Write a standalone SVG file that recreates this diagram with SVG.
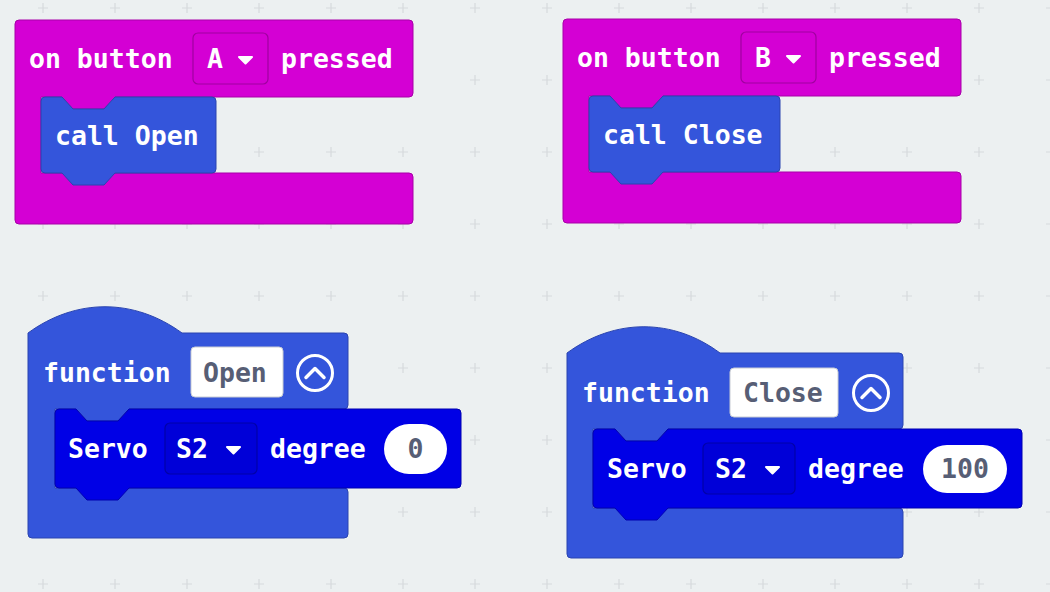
<svg xmlns="http://www.w3.org/2000/svg" width="1050" height="592" viewBox="0 0 1050 592">
<defs>
<style>
.t{font-family:"DejaVu Sans Mono","Liberation Mono",monospace;font-size:26.5px;font-weight:bold;fill:#ffffff}
.g{font-family:"DejaVu Sans Mono","Liberation Mono",monospace;font-size:26.5px;font-weight:bold;fill:#575e75}
.ev{fill:#d400d4;stroke:#a800a8;stroke-width:1}
.evdd{fill:#d400d4;stroke:#a000a0;stroke-width:1.2}
.fn{fill:#3455db;stroke:#2a44b0;stroke-width:1}
.sv{fill:#0000e6;stroke:#0000b0;stroke-width:1}
.svdd{fill:#0000d8;stroke:#0000a8;stroke-width:1.2}
.fld{fill:#ffffff;stroke:#c8ccd4;stroke-width:1}
.arr{fill:#ffffff;stroke:#ffffff;stroke-width:2;stroke-linejoin:round}
.btn{fill:none;stroke:#ffffff;stroke-width:3}
.chev{fill:none;stroke:#ffffff;stroke-width:3.5;stroke-linecap:round;stroke-linejoin:round}
.plus{stroke:#d6dadd;stroke-width:1.2}
</style>
<path id="plus" d="M-5,0H5M0,-5V5" class="plus"/>
</defs>
<rect x="0" y="0" width="1050" height="592" fill="#ecf0f1"/>
<g id="grid">
<g transform="translate(43,8)"><use href="#plus"/><use href="#plus" x="72"/><use href="#plus" x="144"/><use href="#plus" x="216"/><use href="#plus" x="288"/><use href="#plus" x="360"/><use href="#plus" x="432"/><use href="#plus" x="504"/><use href="#plus" x="576"/><use href="#plus" x="648"/><use href="#plus" x="720"/><use href="#plus" x="792"/><use href="#plus" x="864"/><use href="#plus" x="936"/><use href="#plus" x="1008"/></g>
<g transform="translate(43,80)"><use href="#plus"/><use href="#plus" x="72"/><use href="#plus" x="144"/><use href="#plus" x="216"/><use href="#plus" x="288"/><use href="#plus" x="360"/><use href="#plus" x="432"/><use href="#plus" x="504"/><use href="#plus" x="576"/><use href="#plus" x="648"/><use href="#plus" x="720"/><use href="#plus" x="792"/><use href="#plus" x="864"/><use href="#plus" x="936"/><use href="#plus" x="1008"/></g>
<g transform="translate(43,152)"><use href="#plus"/><use href="#plus" x="72"/><use href="#plus" x="144"/><use href="#plus" x="216"/><use href="#plus" x="288"/><use href="#plus" x="360"/><use href="#plus" x="432"/><use href="#plus" x="504"/><use href="#plus" x="576"/><use href="#plus" x="648"/><use href="#plus" x="720"/><use href="#plus" x="792"/><use href="#plus" x="864"/><use href="#plus" x="936"/><use href="#plus" x="1008"/></g>
<g transform="translate(43,224)"><use href="#plus"/><use href="#plus" x="72"/><use href="#plus" x="144"/><use href="#plus" x="216"/><use href="#plus" x="288"/><use href="#plus" x="360"/><use href="#plus" x="432"/><use href="#plus" x="504"/><use href="#plus" x="576"/><use href="#plus" x="648"/><use href="#plus" x="720"/><use href="#plus" x="792"/><use href="#plus" x="864"/><use href="#plus" x="936"/><use href="#plus" x="1008"/></g>
<g transform="translate(43,296)"><use href="#plus"/><use href="#plus" x="72"/><use href="#plus" x="144"/><use href="#plus" x="216"/><use href="#plus" x="288"/><use href="#plus" x="360"/><use href="#plus" x="432"/><use href="#plus" x="504"/><use href="#plus" x="576"/><use href="#plus" x="648"/><use href="#plus" x="720"/><use href="#plus" x="792"/><use href="#plus" x="864"/><use href="#plus" x="936"/><use href="#plus" x="1008"/></g>
<g transform="translate(43,368)"><use href="#plus"/><use href="#plus" x="72"/><use href="#plus" x="144"/><use href="#plus" x="216"/><use href="#plus" x="288"/><use href="#plus" x="360"/><use href="#plus" x="432"/><use href="#plus" x="504"/><use href="#plus" x="576"/><use href="#plus" x="648"/><use href="#plus" x="720"/><use href="#plus" x="792"/><use href="#plus" x="864"/><use href="#plus" x="936"/><use href="#plus" x="1008"/></g>
<g transform="translate(43,440)"><use href="#plus"/><use href="#plus" x="72"/><use href="#plus" x="144"/><use href="#plus" x="216"/><use href="#plus" x="288"/><use href="#plus" x="360"/><use href="#plus" x="432"/><use href="#plus" x="504"/><use href="#plus" x="576"/><use href="#plus" x="648"/><use href="#plus" x="720"/><use href="#plus" x="792"/><use href="#plus" x="864"/><use href="#plus" x="936"/><use href="#plus" x="1008"/></g>
<g transform="translate(43,512)"><use href="#plus"/><use href="#plus" x="72"/><use href="#plus" x="144"/><use href="#plus" x="216"/><use href="#plus" x="288"/><use href="#plus" x="360"/><use href="#plus" x="432"/><use href="#plus" x="504"/><use href="#plus" x="576"/><use href="#plus" x="648"/><use href="#plus" x="720"/><use href="#plus" x="792"/><use href="#plus" x="864"/><use href="#plus" x="936"/><use href="#plus" x="1008"/></g>
<g transform="translate(43,584)"><use href="#plus"/><use href="#plus" x="72"/><use href="#plus" x="144"/><use href="#plus" x="216"/><use href="#plus" x="288"/><use href="#plus" x="360"/><use href="#plus" x="432"/><use href="#plus" x="504"/><use href="#plus" x="576"/><use href="#plus" x="648"/><use href="#plus" x="720"/><use href="#plus" x="792"/><use href="#plus" x="864"/><use href="#plus" x="936"/><use href="#plus" x="1008"/></g>
</g>
<g id="connectors"></g>

<g id="onButtonA">
<path class="ev" d="M15,24a4,4 0 0 1 4,-4H409a4,4 0 0 1 4,4V93a4,4 0 0 1 -4,4H115l-11,12h-31l-11,-12H41V173H409a4,4 0 0 1 4,4V220a4,4 0 0 1 -4,4H19a4,4 0 0 1 -4,-4Z"/>
<text class="t" x="29" y="68">on button</text>
<rect class="evdd" x="193" y="33" width="75" height="51" rx="5"/>
<text class="t" x="207" y="68">A</text>
<path class="arr" d="M239,57H252L245.5,63.5Z"/>
<text class="t" x="281" y="68">pressed</text>
</g>
<g id="callOpen">
<path class="fn" d="M41,101a4,4 0 0 1 4,-4H62l11,12h31l11,-12H212a4,4 0 0 1 4,4V169a4,4 0 0 1 -4,4H115l-11,12h-31l-11,-12H45a4,4 0 0 1 -4,-4Z"/>
<text class="t" x="55" y="145">call Open</text>
</g>

<g id="onButtonB">
<path class="ev" d="M563,23a4,4 0 0 1 4,-4H957a4,4 0 0 1 4,4V92a4,4 0 0 1 -4,4H663l-11,12h-31l-11,-12H589V172H957a4,4 0 0 1 4,4V219a4,4 0 0 1 -4,4H567a4,4 0 0 1 -4,-4Z"/>
<text class="t" x="577" y="67">on button</text>
<rect class="evdd" x="741" y="32" width="75" height="51" rx="5"/>
<text class="t" x="755" y="67">B</text>
<path class="arr" d="M787,56H800L793.5,62.5Z"/>
<text class="t" x="829" y="67">pressed</text>
</g>
<g id="callClose">
<path class="fn" d="M589,100a4,4 0 0 1 4,-4H610l11,12h31l11,-12H776a4,4 0 0 1 4,4V168a4,4 0 0 1 -4,4H663l-11,12h-31l-11,-12H593a4,4 0 0 1 -4,-4Z"/>
<text class="t" x="603" y="144">call Close</text>
</g>

<g id="functionOpen">
<path class="fn" d="M28,333c48,-35 106,-35 154,0H344a4,4 0 0 1 4,4V405a4,4 0 0 1 -4,4H129l-11,12h-31l-11,-12H55V488H344a4,4 0 0 1 4,4V534a4,4 0 0 1 -4,4H32a4,4 0 0 1 -4,-4Z"/>
<text class="t" x="43" y="382">function</text>
<rect class="fld" x="191" y="347" width="92" height="50" rx="4"/>
<text class="g" x="203" y="382">Open</text>
<circle class="btn" cx="315" cy="373" r="17.5"/>
<path class="chev" d="M306,377.5L315,368.5L324,377.5"/>
</g>
<g id="servoOpen">
<path class="sv" d="M55,413a4,4 0 0 1 4,-4H76l11,12h31l11,-12H457a4,4 0 0 1 4,4V484a4,4 0 0 1 -4,4H129l-11,12h-31l-11,-12H59a4,4 0 0 1 -4,-4Z"/>
<text class="t" x="68" y="458">Servo</text>
<rect class="svdd" x="165" y="423" width="92" height="51" rx="5"/>
<text class="t" x="176" y="458">S2</text>
<path class="arr" d="M227,447H240L233.5,453.5Z"/>
<text class="t" x="270" y="458">degree</text>
<rect x="384" y="424" width="63" height="50" rx="25" fill="#ffffff"/>
<text class="g" x="415.5" y="458" text-anchor="middle">0</text>
</g>

<g id="functionClose">
<path class="fn" d="M567,353c48,-35 106,-35 153,0H899a4,4 0 0 1 4,4V425a4,4 0 0 1 -4,4H668l-11,12h-31l-11,-12H593V508H899a4,4 0 0 1 4,4V554a4,4 0 0 1 -4,4H571a4,4 0 0 1 -4,-4Z"/>
<text class="t" x="582" y="402">function</text>
<rect class="fld" x="730" y="368" width="108" height="49" rx="4"/>
<text class="g" x="743" y="402">Close</text>
<circle class="btn" cx="871" cy="393" r="17.5"/>
<path class="chev" d="M862,397.5L871,388.5L880,397.5"/>
</g>
<g id="servoClose">
<path class="sv" d="M593,433a4,4 0 0 1 4,-4H615l11,12h31l11,-12H1018a4,4 0 0 1 4,4V504a4,4 0 0 1 -4,4H668l-11,12h-31l-11,-12H597a4,4 0 0 1 -4,-4Z"/>
<text class="t" x="607" y="478">Servo</text>
<rect class="svdd" x="703" y="443" width="92" height="51" rx="5"/>
<text class="t" x="715" y="478">S2</text>
<path class="arr" d="M766,467H779L772.5,473.5Z"/>
<text class="t" x="808" y="478">degree</text>
<rect x="923" y="445" width="84" height="48" rx="24" fill="#ffffff"/>
<text class="g" x="965" y="478" text-anchor="middle">100</text>
</g>
</svg>
